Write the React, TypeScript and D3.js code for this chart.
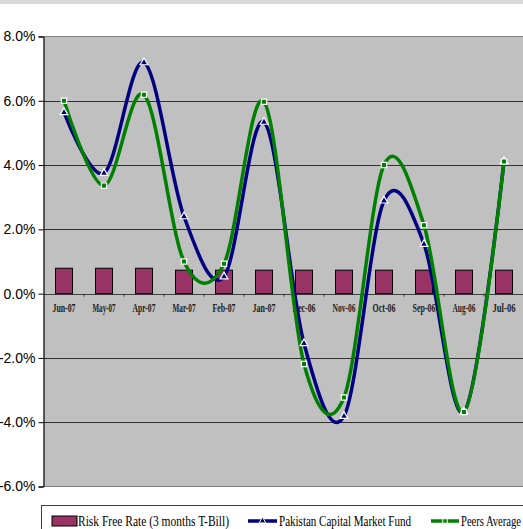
import * as d3 from "d3";
import { useEffect, useRef } from "react";

const months = ["Jun-07", "May-07", "Apr-07", "Mar-07", "Feb-07", "Jan-07", "Dec-06", "Nov-06", "Oct-06", "Sep-06", "Aug-06", "Jul-06"];
const riskFree = [0.79, 0.79, 0.79, 0.73, 0.73, 0.73, 0.73, 0.73, 0.73, 0.73, 0.73, 0.73];
const pcmFund = [5.64, 3.75, 7.19, 2.4, 0.53, 5.34, -1.55, -3.81, 2.89, 1.54, -3.68, 4.11];
const peers = [6.0, 3.36, 6.19, 1.0, 0.93, 5.97, -2.19, -3.23, 4.0, 2.13, -3.68, 4.11];
const yTicks = [8, 6, 4, 2, 0, -2, -4, -6];

export default function App() {
  const ref = useRef<SVGSVGElement>(null);

  useEffect(() => {
    const width = 523;
    const left = 44;
    const right = 524;
    const top = 36.5;
    const bottom = 486.5;

    const svg = d3.select(ref.current);
    svg.selectAll("*").remove();

    const x = d3.scaleBand().domain(months).range([left, right]);
    const y = d3.scaleLinear().domain([-6, 8]).range([bottom, top]);
    const cx = (m: string) => (x(m) as number) + x.bandwidth() / 2;

    // top grey band
    svg.append("rect").attr("x", 0).attr("y", 0).attr("width", width).attr("height", 4).attr("fill", "#d9d9d9");

    // plot area
    svg.append("rect")
      .attr("x", left).attr("y", top).attr("width", right - left).attr("height", bottom - top)
      .attr("fill", "#c0c0c0").attr("stroke", "#808080");

    // gridlines
    svg.append("g").selectAll("line").data(yTicks.filter(t => t !== 8 && t !== -6)).join("line")
      .attr("x1", left).attr("x2", right)
      .attr("y1", d => Math.round(y(d)) + 0.5).attr("y2", d => Math.round(y(d)) + 0.5)
      .attr("stroke", d => (d === 0 ? "#404040" : "#303030")).attr("stroke-width", 1);

    // y axis
    const ya = svg.append("g").attr("transform", `translate(${left - 0.5},0)`)
      .call(d3.axisLeft(y).tickValues(yTicks).tickSize(5).tickPadding(3).tickFormat(d => `${(+d).toFixed(1)}%`));
    ya.select(".domain").attr("stroke", "#000");
    ya.selectAll(".tick line").attr("stroke", "#000");
    ya.selectAll("text")
      .attr("font-family", "'Liberation Sans Narrow', 'Liberation Sans', Arial, sans-serif")
      .attr("font-size", 14).attr("fill", "#000");

    // x ticks on the zero line
    const bounds = months.slice(1).map(m => x(m) as number);
    svg.append("g").selectAll("line").data(bounds).join("line")
      .attr("x1", d => d).attr("x2", d => d)
      .attr("y1", y(0)).attr("y2", y(0) + 3)
      .attr("stroke", "#404040");

    // x labels
    svg.append("g").selectAll("text").data(months).join("text")
      .attr("x", d => cx(d)).attr("y", y(0) + 18)
      .attr("text-anchor", "middle")
      .attr("font-family", "'Liberation Serif', 'Times New Roman', serif")
      .attr("font-weight", "bold").attr("font-size", 11.5)
      .attr("textLength", 23).attr("lengthAdjust", "spacingAndGlyphs")
      .attr("fill", "#222")
      .text(d => d);

    // risk free bars
    const bw = 17;
    svg.append("g").selectAll("rect").data(months).join("rect")
      .attr("x", d => cx(d) - bw / 2)
      .attr("y", (d, i) => y(riskFree[i]))
      .attr("width", bw)
      .attr("height", (d, i) => y(0) - y(riskFree[i]))
      .attr("fill", "#993366").attr("stroke", "#000").attr("stroke-width", 1);

    const curve = d3.curveCardinal.tension(0);
    const line = d3.line<number>().x((d, i) => cx(months[i])).y(d => y(d)).curve(curve);

    const series = [
      { values: pcmFund, color: "#000080", marker: "triangle" },
      { values: peers, color: "#008000", marker: "square" },
    ];
    series.forEach(s => {
      svg.append("path").attr("d", line(s.values)).attr("fill", "none")
        .attr("stroke", s.color).attr("stroke-width", 3.5).attr("stroke-linejoin", "round");
    });
    series.forEach(s => {
      const sym = d3.symbol().type(s.marker === "square" ? d3.symbolSquare : d3.symbolTriangle).size(s.marker === "square" ? 28 : 26);
      svg.append("g").selectAll("path").data(s.values).join("path")
        .attr("transform", (d, i) => `translate(${cx(months[i])},${y(d)})`)
        .attr("d", sym())
        .attr("fill", s.color).attr("stroke", "#fff").attr("stroke-width", 1.2);
    });

    // legend
    const lg = svg.append("g");
    lg.append("rect").attr("x", 41.5).attr("y", 505.5).attr("width", 490).attr("height", 40)
      .attr("fill", "#fff").attr("stroke", "#404040");
    lg.append("rect").attr("x", 52).attr("y", 516).attr("width", 25).attr("height", 10)
      .attr("fill", "#993366").attr("stroke", "#000");
    const legendFont = "'Liberation Serif', 'Times New Roman', serif";
    const legendItems = [
      { label: "Risk Free Rate (3 months T-Bill)", x: 78, len: 151 },
      { label: "Pakistan Capital Market Fund", x: 279, len: 132 },
      { label: "Peers Average", x: 461, len: 60 },
    ];
    lg.selectAll("text").data(legendItems).join("text")
      .attr("x", d => d.x).attr("y", 526)
      .attr("font-family", legendFont).attr("font-size", 15)
      .attr("textLength", d => d.len).attr("lengthAdjust", "spacingAndGlyphs")
      .attr("fill", "#000")
      .text(d => d.label);
    const legendLines = [
      { s: series[0], x1: 248, x2: 277 },
      { s: series[1], x1: 431, x2: 459 },
    ];
    legendLines.forEach(l => {
      lg.append("line").attr("x1", l.x1).attr("x2", l.x2).attr("y1", 521).attr("y2", 521)
        .attr("stroke", l.s.color).attr("stroke-width", 3.5);
      const sym = d3.symbol().type(l.s.marker === "square" ? d3.symbolSquare : d3.symbolTriangle).size(20);
      lg.append("path").attr("transform", `translate(${(l.x1 + l.x2) / 2},521)`).attr("d", sym())
        .attr("fill", l.s.color).attr("stroke", "#fff").attr("stroke-width", 1);
    });
  }, []);

  return (
    <svg ref={ref} width={523} height={529} style={{ position: "absolute", left: 0, top: 0, background: "#fff" }} />
  );
}
